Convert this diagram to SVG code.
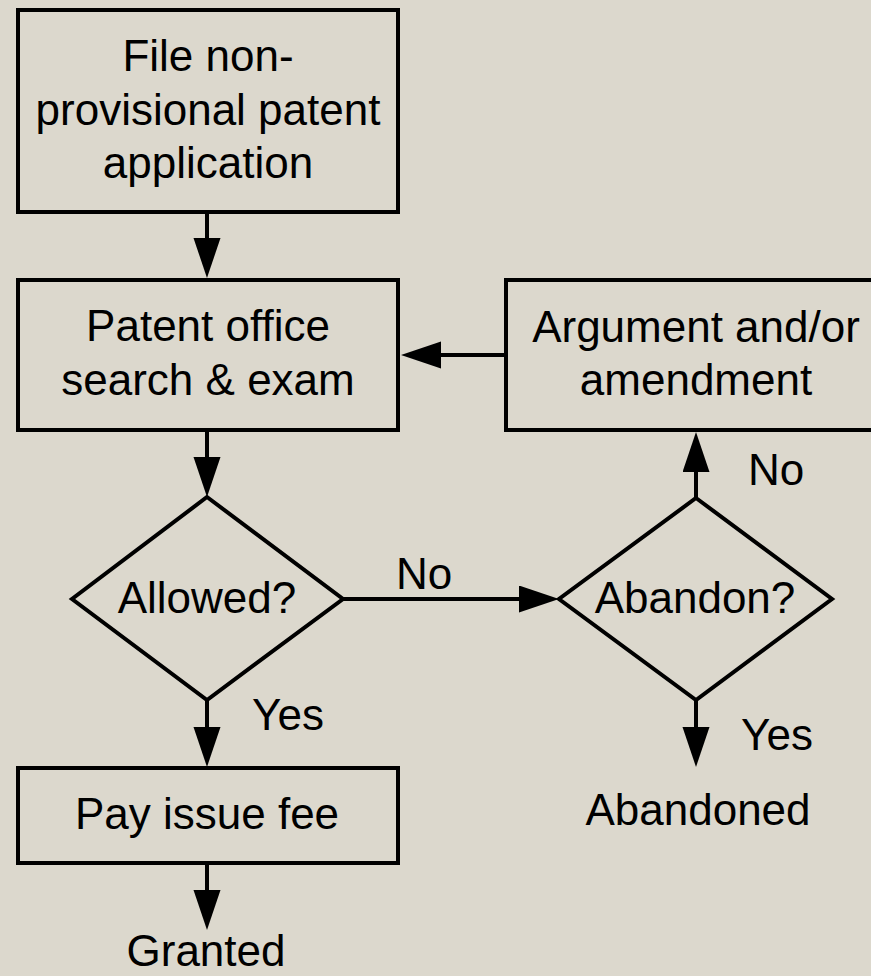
<svg xmlns="http://www.w3.org/2000/svg" width="871" height="976" viewBox="0 0 871 976">
<style>
.bg{fill:#DCD8CD}
.node{fill:#DCD8CD;stroke:#000;stroke-width:4;stroke-linejoin:miter}
.t{font-family:"Liberation Sans",Arial,sans-serif;font-size:44px;fill:#000;text-anchor:middle}
.c{fill:none;stroke:#000;stroke-width:4}
</style>
<defs>
<marker id="ah" markerUnits="userSpaceOnUse" markerWidth="42" markerHeight="28" refX="1" refY="13.5" orient="auto" viewBox="0 0 42 28">
<path d="M0,0 L40,13.5 L0,27 z" fill="#000"/>
</marker>
</defs>
<rect class="bg" x="0" y="0" width="871" height="976"/>
<g id="connectors">
<line class="c" x1="207" y1="212" x2="207" y2="239" marker-end="url(#ah)"/>
<line class="c" x1="506" y1="355" x2="440" y2="355" marker-end="url(#ah)"/>
<line class="c" x1="207" y1="430" x2="207" y2="458" marker-end="url(#ah)"/>
<line class="c" x1="343" y1="599" x2="520" y2="599" marker-end="url(#ah)"/>
<line class="c" x1="696" y1="498" x2="696" y2="471" marker-end="url(#ah)"/>
<line class="c" x1="696" y1="700" x2="696" y2="728" marker-end="url(#ah)"/>
<line class="c" x1="207" y1="700" x2="207" y2="728" marker-end="url(#ah)"/>
<line class="c" x1="207" y1="863" x2="207" y2="891" marker-end="url(#ah)"/>
<text class="t" x="424" y="589">No</text>
<text class="t" x="776" y="485">No</text>
<text class="t" x="288" y="730">Yes</text>
<text class="t" x="777" y="750">Yes</text>
</g>
<g id="file">
<rect class="node" x="18" y="10" width="380" height="202"/>
<text class="t" x="208" y="71">File non-</text>
<text class="t" x="208" y="125">provisional patent</text>
<text class="t" x="208" y="178">application</text>
</g>
<g id="exam">
<rect class="node" x="18" y="280" width="380" height="150"/>
<text class="t" x="208" y="341">Patent office</text>
<text class="t" x="208" y="395">search &amp; exam</text>
</g>
<g id="argument">
<rect class="node" x="506" y="280" width="380" height="150"/>
<text class="t" x="696" y="342">Argument and/or</text>
<text class="t" x="696" y="395">amendment</text>
</g>
<g id="allowed">
<polygon class="node" points="207,497 343,599 207,700 72,599"/>
<text class="t" x="207" y="613">Allowed?</text>
</g>
<g id="abandon">
<polygon class="node" points="696,498 832,599 696,700 559,599"/>
<text class="t" x="695" y="613">Abandon?</text>
</g>
<g id="pay">
<rect class="node" x="18" y="768" width="380" height="95"/>
<text class="t" x="207" y="829">Pay issue fee</text>
</g>
<g id="granted">
<text class="t" x="206" y="966">Granted</text>
</g>
<g id="abandoned">
<text class="t" x="698" y="825">Abandoned</text>
</g>
</svg>
